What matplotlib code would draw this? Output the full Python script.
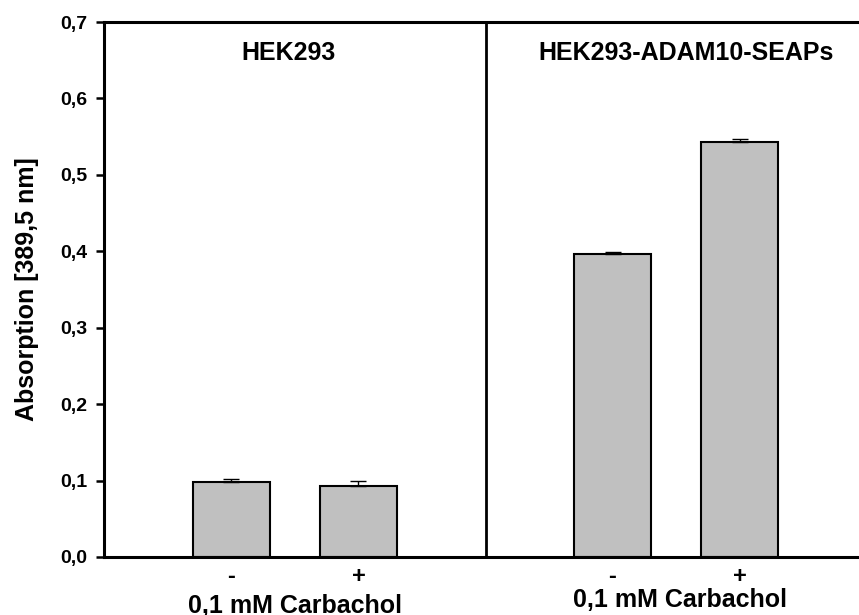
import matplotlib
matplotlib.use("Agg")
import matplotlib.pyplot as plt
import numpy as np

plt.rcParams["font.family"] = ["Liberation Sans", "DejaVu Sans"]
plt.rcParams["font.weight"] = "bold"

cell_lines = ["HEK293", "HEK293-ADAM10-SEAPs"]
treatment_labels = ["-", "+"]
absorption = [[0.098, 0.093], [0.397, 0.543]]
absorption_err = [[0.004, 0.006], [0.002, 0.004]]
x_caption = "0,1 mM Carbachol"
y_caption = "Absorption [389,5 nm]"
y_ticks = [0.0, 0.1, 0.2, 0.3, 0.4, 0.5, 0.6, 0.7]
y_tick_labels = ["0,0", "0,1", "0,2", "0,3", "0,4", "0,5", "0,6", "0,7"]

fig = plt.figure(figsize=(8.59, 6.15), dpi=100)
ax = fig.add_axes([104 / 859, 1 - 557 / 615, 763 / 859, 535 / 615])

offsets = np.array([-0.167, 0.167])
bar_width = 0.202
title_x = [0.484, 1.526]
caption_x = [0.5, 1.51]
caption_dy = [-35, -31]
tick_pos = []
tick_lab = []
for g, name in enumerate(cell_lines):
    xs = g + 0.5 + offsets
    ax.bar(xs, absorption[g], width=bar_width, color="#c0c0c0",
           edgecolor="black", linewidth=1.5, zorder=2)
    ax.errorbar(xs, absorption[g],
                yerr=[np.zeros(2), absorption_err[g]],
                fmt="none", ecolor="black", elinewidth=1.0,
                capsize=5.8, capthick=1.0, zorder=3)
    tick_pos.extend(xs)
    tick_lab.extend(treatment_labels)
    ax.text(title_x[g], 0.660, name, ha="center", va="center",
            fontsize=18, fontweight="bold")
    ax.annotate(x_caption, xy=(caption_x[g], 0),
                xycoords=("data", "axes fraction"),
                xytext=(0, caption_dy[g]), textcoords="offset points",
                ha="center", va="center", fontsize=18, fontweight="bold")

# panel divider
ax.axvline(1.0, color="black", linewidth=2.0, zorder=4)

ax.set_xlim(0, 2)
ax.set_ylim(0, 0.7)
ax.set_yticks(y_ticks)
ax.set_yticklabels(y_tick_labels, fontsize=14, fontweight="bold")
ax.set_xticks(tick_pos)
ax.set_xticklabels(tick_lab, fontsize=17, fontweight="bold")
ax.tick_params(axis="x", length=0, pad=6)
ax.tick_params(axis="y", direction="out", length=6, width=1.8, pad=6)
ax.set_ylabel(y_caption, fontsize=18, fontweight="bold", labelpad=15)

for spine in ax.spines.values():
    spine.set_linewidth(2.2)

fig.savefig("out.png", dpi=100)
